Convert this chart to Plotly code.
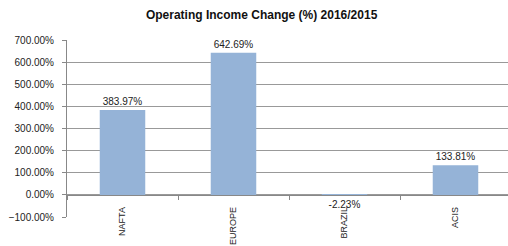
import plotly.graph_objects as go

categories = ["NAFTA", "EUROPE", "BRAZIL", "ACIS"]
values = [383.97, 642.69, -2.23, 133.81]
labels = ["383.97%", "642.69%", "-2.23%", "133.81%"]
title = "Operating Income Change (%) 2016/2015"

fig = go.Figure(go.Bar(
    x=categories, y=values, text=labels, textposition="outside",
    textfont=dict(size=10, color="#222222"), cliponaxis=False,
    marker=dict(color="#95B3D7", line=dict(width=0)), width=0.41,
))

fig.update_layout(
    width=508, height=246,
    margin=dict(l=67, r=0, t=40, b=29, autoexpand=False),
    paper_bgcolor="white", plot_bgcolor="white",
    font=dict(family="Liberation Sans, Arial", size=10, color="#222222"),
    title=dict(text="<b>" + title + "</b>", x=0.515, xanchor="center", y=0.94, yanchor="middle",
               yref="container", font=dict(size=12, color="#111111")),
    showlegend=False,
    xaxis=dict(range=[-0.5, 3.473], anchor="free", position=0.1215, automargin=False,
               ticklabelstandoff=7,
               showline=True, linecolor="#888888", linewidth=1,
               ticks="outside", tickson="boundaries", ticklen=4, tickcolor="#888888",
               tickangle=-90, showgrid=False, tickfont=dict(size=9)),
    yaxis=dict(range=[-100, 700], dtick=100, tickformat=".2f", ticksuffix="%",
               automargin=False, ticklabelstandoff=6,
               showline=True, linecolor="#888888", linewidth=1,
               ticks="outside", ticklen=4, tickcolor="#888888",
               showgrid=True, gridcolor="#999999", gridwidth=1, zeroline=False,
               tickfont=dict(size=10)),
)

fig.write_html("out.html", config={"displayModeBar": False},
               post_script="document.body.style.margin='0';")
